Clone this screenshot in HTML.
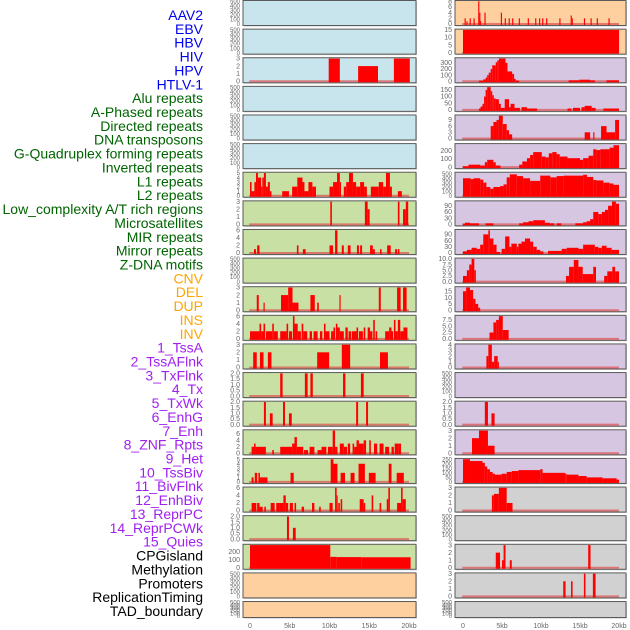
<!DOCTYPE html>
<html><head><meta charset="utf-8"><style>
html,body{margin:0;padding:0;background:#fff;}
svg{display:block;font-family:"Liberation Sans",sans-serif;}
</style></head><body>
<svg id="chart" width="630" height="630" viewBox="0 0 630 630" xmlns="http://www.w3.org/2000/svg"></svg>
<script>
const labelNames = ["AAV2","EBV","HBV","HIV","HPV","HTLV-1","Alu repeats","A-Phased repeats","Directed repeats","DNA transposons","G-Quadruplex forming repeats","Inverted repeats","L1 repeats","L2 repeats","Low_complexity A/T rich regions","Microsatellites","MIR repeats","Mirror repeats","Z-DNA motifs","CNV","DEL","DUP","INS","INV","1_TssA","2_TssAFlnk","3_TxFlnk","4_Tx","5_TxWk","6_EnhG","7_Enh","8_ZNF_Rpts","9_Het","10_TssBiv","11_BivFlnk","12_EnhBiv","13_ReprPC","14_ReprPCWk","15_Quies","CPGisland","Methylation","Promoters","ReplicationTiming","TAD_boundary"];
const labelGroups = [0,0,0,0,0,0,1,1,1,1,1,1,1,1,1,1,1,1,1,2,2,2,2,2,3,3,3,3,3,3,3,3,3,3,3,3,3,3,3,4,4,4,4,4];
const groupColors = ["#0000ee","#006400","#ffa500","#a020f0","#000000"];
const xTickLabels = ["0","5kb","10kb","15kb","20kb"];
const xTickValues = [0,5,10,15,20];
const E500=[0,100,200,300,400,500];

const leftBg = ["b","b","b","b","b","b","g","g","g","g","g","g","g","g","g","g","g","g","g","g","o","o"];
const leftYmax = [500,500,3,500,500,500,5,3,6,500,3,6,3,2,2,7,5,6,2,280,500,500];
const leftTicks = [E500,E500,[0,1,2,3],E500,E500,E500,[0,1,2,3,4,5],[0,1,2,3],[0,2,4,6],E500,[0,1,2,3],[0,2,4,6],[0,1,2,3],[0,0.5,1,1.5,2],[0,0.5,1,1.5,2],[0,2,4,6],[0,1,2,3,4,5],[0,2,4,6],[0,0.5,1,1.5,2],[0,100,200],E500,E500];
const leftSegs = [
 [],[],
 [[9.9,11.3,3],[13.6,16.1,2],[18.1,20.1,3]],
 [],[],[],
 [[0,0.2,3],[0.2,0.55,1],[0.55,0.75,3],[0.75,1.0,5],[1.0,1.4,4],[1.4,1.55,2],[1.55,1.75,4],[1.75,2.0,5],[2.0,2.25,2],[2.25,2.5,3],[2.5,2.7,1],[4.05,4.9,1],[5.3,5.95,2],[5.95,6.6,4],[6.6,6.85,3],[6.85,7.35,1],[7.35,7.85,3],[7.85,8.3,2],[10.0,10.45,2],[10.45,10.95,3],[10.95,11.3,5],[11.3,11.45,3],[11.8,12.1,2],[12.1,12.45,3],[12.45,12.95,5],[12.95,13.35,3],[13.35,13.85,2],[13.85,14.35,3],[14.35,14.7,2],[15.2,16.2,2],[16.2,16.75,3],[16.75,17.1,2],[17.1,17.6,5],[17.6,17.85,2],[18.6,19.1,1]],
 [[10.1,10.3,3],[14.45,14.8,3],[14.8,15.05,2],[18.6,18.8,3],[19.25,19.6,2],[19.6,19.9,3]],
 [[0.5,0.75,1],[0.9,1.2,2],[5.9,6.1,2],[6.65,7.0,1],[10,10.45,2],[10.7,11.0,6],[11.55,11.8,2],[12.3,12.65,2],[13.45,13.7,2],[13.85,14.1,2],[15.1,15.45,2],[15.45,15.7,1],[16.35,16.55,1],[17.25,17.7,2],[18.25,18.5,1],[18.6,18.8,1]],
 [],
 [[0.85,1.1,2],[1.7,1.85,1],[3.9,4.8,2],[4.8,5.35,3],[5.35,6.1,1],[7.6,8.15,2],[8.45,8.65,1],[11.25,11.4,2],[16.2,16.45,3],[18.5,18.95,3],[19.25,19.7,3]],
 [[0,1.2,2],[1.2,1.4,4],[1.4,1.7,2],[1.7,1.9,4],[2.0,2.8,2],[2.8,3.0,4],[3.0,3.5,2],[3.8,4.6,2],[4.6,4.8,4],[4.9,5.3,2],[5.4,5.6,6],[5.6,6.0,4],[6.0,6.4,2],[6.5,6.7,4],[6.7,7.2,2],[7.5,7.8,2],[8.0,8.5,2],[8.8,9.1,2],[9.3,9.5,4],[9.5,10.0,2],[10.2,10.5,2],[10.5,10.7,3],[10.8,11.0,4],[11.0,11.3,3],[11.3,11.8,2],[12.0,12.3,3],[12.4,12.7,2],[12.8,13.4,2],[13.4,13.6,3],[13.7,14.2,2],[14.3,14.5,3],[14.8,15.1,3],[15.1,15.4,2],[15.5,15.7,5],[15.8,16.0,2],[17.0,17.5,2],[17.5,17.8,3],[17.8,18.0,2],[18.1,18.3,5],[18.3,18.6,2],[18.6,18.9,5],[18.9,19.3,2],[19.3,19.8,3]],
 [[0.4,0.85,2],[1.25,1.7,2],[2.25,2.7,2],[8.45,9.95,2],[11.55,12.6,3],[16.35,17.35,2]],
 [[3.8,4.1,2],[6.9,7.25,2],[7.6,7.9,2],[11.7,12.0,2],[13.95,14.3,2]],
 [[1.75,2.0,2],[2.5,2.85,1],[4.15,4.4,2],[4.9,5.25,1],[13.35,13.6,2],[14.6,14.85,2]],
 [[0.2,0.5,2],[0.5,0.7,3],[0.7,2.0,2],[2.8,3.0,1],[3.8,5.3,2],[5.3,5.6,3],[5.6,5.9,5],[5.9,6.7,2],[6.8,7.3,1],[7.5,8.1,2],[8.5,9.0,1],[9.0,9.6,2],[9.8,10.4,2],[10.4,10.7,7],[10.7,11.0,2],[11.3,11.8,3],[11.8,12.2,2],[12.3,12.6,3],[12.9,13.1,3],[13.1,13.4,2],[13.4,13.7,4],[13.7,14.3,3],[14.3,14.6,4],[15.0,15.2,4],[15.6,16.0,3],[16.3,16.8,3],[17.0,17.5,2],[17.8,18.1,2],[18.2,18.7,3],[18.7,19.0,3]],
 [[0.2,0.45,1],[0.6,0.9,2],[1.05,1.25,2],[1.25,2.2,1],[5.1,5.5,2],[10.15,10.5,5],[10.5,11.0,4],[11.4,11.95,2],[12.65,13.15,2],[13.65,14.45,4],[14.95,15.8,2],[17.45,17.8,4],[18.45,19.35,2]],
 [[0.2,0.8,2],[0.9,1.2,2],[1.2,1.6,1],[1.8,2.0,1],[2.6,3.1,2],[3.3,3.7,2],[3.7,4.2,2],[4.2,4.5,4],[4.5,4.8,2],[5.0,5.4,2],[5.6,5.8,2],[6.5,6.8,1],[7.8,8.1,2],[8.7,8.9,1],[10.0,10.4,2],[10.7,10.9,6],[10.9,11.0,4],[11.1,11.3,2],[11.4,11.6,3],[13.8,14.3,3],[14.3,14.5,2],[15.3,15.5,4],[16.3,16.5,2],[17.2,17.4,3],[17.4,17.6,6],[18.5,19.0,2],[19.0,19.2,6],[19.2,19.6,3]],
 [[4.65,4.9,2],[5.4,5.75,1]],
 [[0,10.1,280],[10.1,10.9,135],[10.9,14.0,132],[14.0,20.2,130]],
 [],[]
];

const rightBg = ["o","o","p","p","p","p","p","p","p","p","p","p","p","p","p","p","p","y","y","y","y","y"];
const rightYmax = [8,15,370,170,11,280,520,110,110,10,18,9,4,500,2,3,250,3,500,3,3,500];
const rightTicks = [[0,2,4,6,8],[0,5,10,15],[0,100,200,300],[0,50,100,150],[0,3,6,9],[0,100,200],E500,[0,30,60,90],[0,30,60,90],[0,2.5,5,7.5,10],[0,5,10,15],[0,2.5,5,7.5],[0,1,2,3,4],E500,[0,0.5,1,1.5,2],[0,1,2,3],[0,50,100,150,200,250],[0,1,2,3],E500,[0,1,2,3],[0,1,2,3],E500];
const rightSegs = [
 [[0.2,0.35,2],[0.45,0.55,1],[0.85,1.0,2],[1.35,1.5,2],[1.95,2.1,8],[2.1,2.2,4],[2.2,2.3,1],[2.75,2.9,4],[4.85,5.0,4],[5.35,5.5,2],[5.85,6.0,2],[6.3,6.45,2],[7.15,7.3,2],[8.3,8.45,2],[9.25,9.4,2],[9.75,9.9,2],[10.15,10.3,2],[10.65,10.8,2],[12.35,12.5,2],[13.8,13.95,3],[13.95,14.05,2],[15.5,15.65,2],[16.35,16.5,2],[17.15,17.3,2],[18.65,18.8,2]],
 [[0,20,15]],
 [[2.05,2.6,10],[2.6,2.9,30],[2.9,3.1,60],[3.1,3.3,100],[3.3,3.55,140],[3.55,3.75,200],[3.75,4.2,260],[4.2,4.4,310],[4.4,4.6,340],[4.6,5.45,370],[5.45,5.7,300],[5.7,6.3,160],[6.3,6.55,120],[6.55,6.75,40],[6.75,7.2,10],[13.55,14.9,15],[14.9,16.3,25],[16.3,16.9,15],[18.4,20,15]],
 [[2.05,2.25,10],[2.25,2.5,25],[2.5,2.7,45],[2.7,2.9,100],[2.9,3.1,150],[3.1,3.55,170],[3.55,3.75,140],[3.75,3.95,110],[3.95,4.2,85],[4.2,4.6,80],[4.6,4.85,45],[4.85,5.35,15],[5.35,5.9,80],[5.9,6.1,20],[6.1,6.6,45],[6.6,7.3,15],[7.5,8.2,20],[8.2,9.5,10],[13.4,13.9,10],[14.1,15.0,15],[15.2,15.6,20],[15.6,16.5,30],[16.5,17.0,15],[18.0,20,10]],
 [[3.55,3.9,6],[3.9,4.3,8],[4.3,4.6,9],[4.6,5.1,11],[5.1,5.6,7],[5.6,5.9,4],[5.9,6.3,2],[15.6,16.3,3],[16.7,16.85,3],[17.7,18.4,6],[18.4,19.5,3],[19.5,20,9]],
 [[0,0.7,10],[0.7,2.2,30],[2.2,2.8,20],[2.8,3.1,60],[3.1,3.9,90],[3.9,4.2,60],[4.2,4.8,20],[7.2,7.6,30],[7.6,8.2,70],[8.2,8.6,110],[8.6,9.0,150],[9.0,10.1,185],[10.1,10.6,130],[10.6,11.0,120],[11.0,11.45,170],[11.45,12.0,185],[12.0,12.4,160],[12.4,13.4,130],[13.4,15.0,110],[15.0,15.4,90],[15.4,16.1,110],[16.1,16.7,140],[16.7,17.1,220],[17.1,17.6,210],[17.6,18.8,220],[18.8,19.3,240],[19.3,20,270]],
 [[0,1.0,400],[1.0,1.35,380],[1.35,2.2,400],[2.2,2.6,370],[2.6,3.0,300],[3.0,3.5,200],[3.5,3.9,160],[3.9,4.75,200],[4.75,5.2,220],[5.2,5.6,260],[5.6,6.0,420],[6.0,6.9,490],[6.9,7.7,450],[7.7,8.6,400],[8.6,9.9,340],[9.9,11.2,460],[11.2,12.0,420],[12.0,12.9,450],[12.9,15.4,460],[15.4,15.9,480],[15.9,16.7,430],[16.7,17.1,360],[17.1,18.0,350],[18.0,18.8,300],[18.8,19.3,280],[19.3,20,250]],
 [[0,0.25,3],[0.25,0.9,8],[0.9,2.05,5],[2.9,3.9,5],[7.2,7.7,5],[7.7,8.4,10],[8.4,9.0,15],[9.0,10.5,20],[10.5,11.1,8],[11.1,11.7,5],[12.0,12.6,5],[14.4,15.4,5],[15.4,15.85,10],[15.85,16.3,15],[16.3,16.7,25],[16.7,17.35,60],[17.35,17.8,50],[17.8,18.2,60],[18.2,18.6,70],[18.6,19.1,90],[19.1,19.6,110],[19.6,20,100]],
 [[0,0.5,8],[0.5,1.1,15],[1.1,1.75,25],[1.75,2.2,20],[2.2,2.6,40],[2.6,3.25,90],[3.25,3.45,110],[3.45,3.9,70],[3.9,4.3,40],[4.3,4.75,5],[4.95,5.4,20],[5.4,5.95,80],[5.95,6.2,30],[6.2,6.9,45],[6.9,7.1,30],[7.1,7.5,45],[7.5,7.95,55],[7.95,8.6,70],[8.6,9.0,55],[9.0,9.45,30],[9.45,9.9,15],[9.9,10.3,8],[10.9,12.65,10],[12.65,13.3,20],[13.3,14.8,25],[14.8,15.4,20],[15.4,16.9,40],[16.9,17.35,30],[17.35,17.8,25],[17.8,18.4,35],[18.4,19.05,25],[19.05,20,15]],
 [[0,0.5,2.5],[0.5,0.8,5],[0.8,1.1,7.5],[1.1,1.45,10],[1.45,1.65,5],[13.2,13.6,2.5],[13.6,14.2,6.5],[14.2,14.8,9.5],[14.8,15.35,6.5],[15.35,16.7,3.3],[16.7,17.05,6.5],[18.1,18.5,2.5],[18.5,19.15,4.5],[19.15,19.5,6.5],[19.5,20,4.5]],
 [[0,0.4,15],[0.4,0.9,18],[0.9,1.3,16],[1.3,1.6,9],[1.6,1.95,5],[1.95,2.2,2]],
 [[3.4,3.9,2.5],[3.9,4.25,6.5],[4.25,4.6,7.5],[4.6,5.1,9],[5.1,5.85,3.5]],
 [[3.0,3.25,2],[3.25,3.7,4],[3.7,4.0,1],[4.0,4.45,2],[4.45,4.6,1]],
 [],
 [[2.8,3.2,2],[3.65,4.05,1]],
 [[1.15,2.05,2],[2.05,3.2,3],[3.2,4.05,1]],
 [[0,0.9,250],[0.9,2.5,230],[2.5,2.8,210],[2.8,3.1,170],[3.1,3.45,140],[3.45,3.8,110],[3.8,4.1,90],[4.1,4.95,80],[4.95,5.6,90],[5.6,6.25,110],[6.25,7.1,120],[7.1,9.9,130],[9.9,10.2,140],[10.2,13.1,100],[13.1,13.3,90],[13.3,14.8,80],[14.8,15.85,65],[15.85,17.9,50],[17.9,19.7,40],[19.7,20,25]],
 [[3.7,3.95,2],[3.95,4.6,2.2],[4.6,5.6,3],[5.6,6.35,1]],
 [],
 [[4.2,4.75,2],[5.0,5.2,1],[5.2,5.45,3],[6.0,6.25,1],[16.05,16.35,3]],
 [[12.85,13.15,2],[13.85,14.05,2],[15.5,15.7,3],[16.65,17.0,3]],
 []
];

const bgColors = {b:"#c8e4ec", g:"#c8e0a4", o:"#fecf9f", p:"#d6c6e2", y:"#d1d1d1"};
const NS = "http://www.w3.org/2000/svg";
const svg = document.getElementById("chart");
function mk(tag, attrs, parent){
  const e = document.createElementNS(NS, tag);
  for (const k in attrs) e.setAttribute(k, attrs[k]);
  (parent||svg).appendChild(e);
  return e;
}
// labels
labelNames.forEach((name,i)=>{
  const t = mk("text",{x:203,y:15+i*13.86+5,"text-anchor":"end","font-size":"14",fill:groupColors[labelGroups[i]]});
  t.textContent = name;
  
  
});
function rowTop(i){ return i*28.62 + 0.5; }
function rowH(i){ return i===21 ? 16 : 25; }
function drawColumn(side, bg, ymaxArr, ticksArr, segsArr, x0, x1, xs0, xScale){
  const xOf = kb => xs0 + kb*xScale;
  for (let i=0;i<22;i++){
    const t=rowTop(i), h=rowH(i);
    const g = mk("g",{});
    
    
    mk("rect",{x:x0+1,y:t+1,width:x1-x0,height:h,fill:"#999",opacity:"0.5"},g);
    const r = mk("rect",{x:x0,y:t,width:x1-x0,height:h,fill:bgColors[bg[i]],stroke:"#5a5a5a","stroke-width":"1"},g);
    
    
    const y0 = t+h-1.5, yTop = t+0.8;
    const yOf = v => y0 - (v/ymaxArr[i])*(y0-yTop);
    const segs = segsArr[i];
    if (segs.length){
      const base = mk("line",{x1:xOf(-0.1),x2:xOf(20),y1:y0,y2:y0,stroke:"#e05050","stroke-width":"2",opacity:"0.7"},g);
      
      
    }
    segs.forEach(s=>{
      const a = xOf(s[0]), b = xOf(s[1]);
      const yv = Math.max(yOf(s[2]), t+0.5);
      const bar = mk("rect",{x:a,y:yv,width:Math.max(b-a,1),height:y0-yv+1,fill:"#ff0000"},g);
      
      
    });
    ticksArr[i].forEach(v=>{
      const tx = mk("text",{x:x0-3,y:yOf(v)+2.2,"text-anchor":"end","font-size":ticksArr[i].length>5?"6":"7",fill:"#666"},g);
      tx.textContent = String(v===0 && ticksArr[i].includes(0.5)?"0.0":(ticksArr[i].includes(0.5)||ticksArr[i].includes(2.5))&&Number.isInteger(v)?v.toFixed(1):v);
      
      
    });
  }
  xTickValues.forEach((v,k)=>{
    const tx = mk("text",{x:xOf(v),y:628,"text-anchor":"middle","font-size":"7",fill:"#666"});
    tx.textContent = xTickLabels[k];
    
    
  });
}
drawColumn("left", leftBg, leftYmax, leftTicks, leftSegs, 243, 416, 250, 7.95);
drawColumn("right", rightBg, rightYmax, rightTicks, rightSegs, 455, 626, 463, 7.8);
</script>
</body></html>
